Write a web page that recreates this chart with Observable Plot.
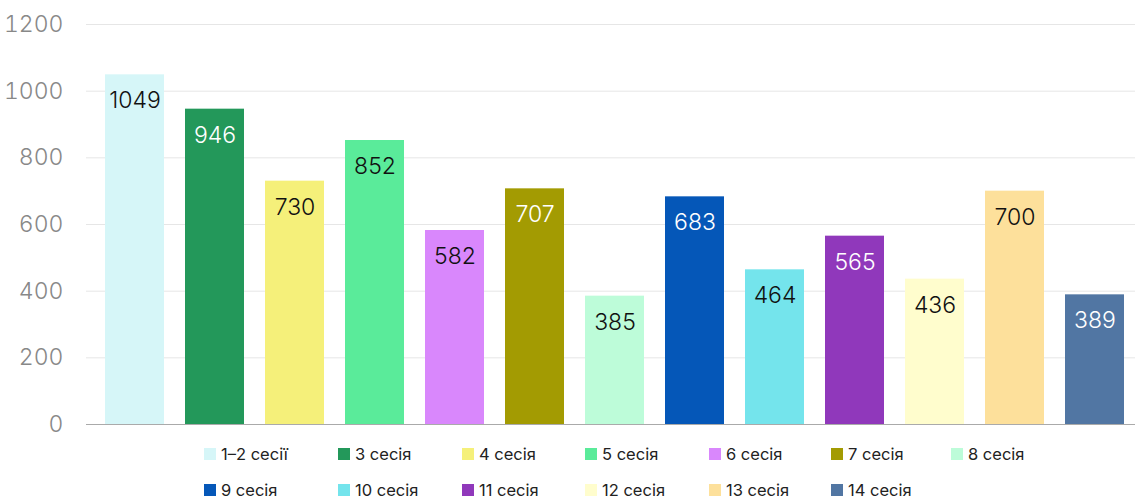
<!DOCTYPE html>
<html>
<head>
<meta charset="utf-8">
<script src="https://cdn.jsdelivr.net/npm/d3@7"></script>
<script src="https://cdn.jsdelivr.net/npm/@observablehq/plot@0.6"></script>
<style>
  body { margin: 0; background: #fff; font-family: Inter, "Noto Sans", sans-serif; overflow: hidden; }
  #chart svg { display: block; }
  #legend { display: grid; grid-template-columns: 134px 124px 123px 124px 122px 120px 124px;
    margin-left: 204px; row-gap: 16px; margin-top: 4px; }
  .item { display: flex; align-items: center; font-size: 16.5px; color: #222; height: 20px; white-space: nowrap; }
  .sw { width: 12px; height: 12px; margin-right: 5px; flex: none; }
</style>
</head>
<body>
<div id="chart"></div>
<div id="legend"></div>
<script>
const sessions = ["1–2 сесії","3 сесія","4 сесія","5 сесія","6 сесія","7 сесія","8 сесія","9 сесія","10 сесія","11 сесія","12 сесія","13 сесія","14 сесія"];
const values = [1049, 946, 730, 852, 582, 707, 385, 683, 464, 565, 436, 700, 389];
const colors = ["#d6f6f8","#23985a","#f5f07a","#5aeb9a","#d987fc","#a39b02","#bdfcd9","#0557b8","#74e4ec","#9038bb","#fffdcd","#fde09b","#5176a3"];
const labelColors = ["#111","#fff","#111","#111","#111","#fff","#111","#fff","#111","#fff","#111","#111","#fff"];
const yTicks = [0, 200, 400, 600, 800, 1000, 1200];

const data = sessions.map((s, i) => ({session: s, value: values[i], color: colors[i], lc: labelColors[i]}));

const chart = Plot.plot({
  width: 1135,
  height: 440,
  marginLeft: 86,
  marginRight: 0,
  marginTop: 24,
  marginBottom: 16,
  style: {fontFamily: "Inter, 'Noto Sans', sans-serif", background: "#fff"},
  x: {domain: sessions, range: [86, 1143], paddingInner: 0.2625, paddingOuter: 0.2375, axis: null},
  y: {domain: [0, 1200], ticks: yTicks, label: null},
  marks: [
    Plot.ruleY(yTicks.filter(d => d > 0), {stroke: "#e6e6e6", strokeWidth: 1}),
    Plot.axisY({ticks: yTicks, tickFormat: d => String(d), tickSize: 0, tickPadding: 23, fontSize: 23, fill: "#888", label: null, fontWeight: 300}),
    Plot.barY(data, {x: "session", y: "value", fill: "color"}),
    Plot.ruleY([0], {stroke: "#aaa", strokeWidth: 1}),
    Plot.text(data, {x: "session", y: "value", text: d => String(d.value), fill: "lc", dy: 26, lineAnchor: "middle", fontSize: 23, fontWeight: 300})
  ]
});
document.getElementById("chart").appendChild(chart);

const legend = document.getElementById("legend");
sessions.forEach((s, i) => {
  const it = document.createElement("div");
  it.className = "item";
  const sw = document.createElement("span");
  sw.className = "sw";
  sw.style.background = colors[i];
  const t = document.createElement("span");
  t.textContent = s;
  it.appendChild(sw); it.appendChild(t);
  legend.appendChild(it);
});
</script>
</body>
</html>
